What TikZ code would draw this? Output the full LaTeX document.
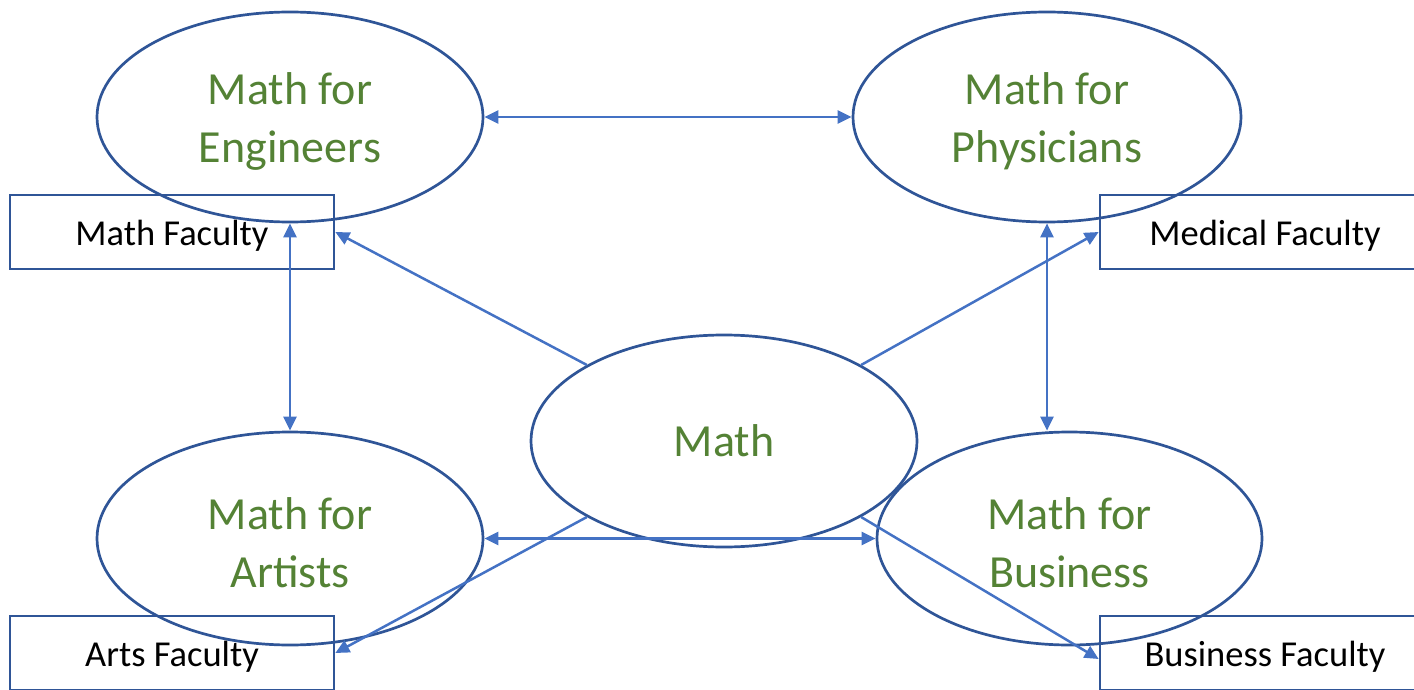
\documentclass[tikz,border=0pt]{standalone}
\usepackage{fontspec}
\setmainfont{Carlito}
\usetikzlibrary{shapes.geometric,arrows.meta}
\definecolor{ellblue}{HTML}{2F5597}
\definecolor{arrblue}{HTML}{4472C4}
\definecolor{txtgreen}{HTML}{548235}
\newcommand{\toprule}{\rule{0pt}{41pt}}
\tikzset{
  topic/.style={ellipse, draw=ellblue, line width=2.7pt, inner sep=0pt,
    text=txtgreen, align=center, font=\fontsize{46}{58}\selectfont},
  faculty/.style={rectangle, draw=ellblue, line width=2.7pt, inner sep=0pt,
    minimum height=74pt, text height=26pt, text depth=0pt, text=black,
    font=\fontsize{36.5}{44}\selectfont},
  conn/.style={draw=arrblue, line width=2.5pt, -{Triangle[length=14pt,width=13pt]}},
  biconn/.style={draw=arrblue, line width=2.5pt, {Triangle[length=14pt,width=13pt]}-{Triangle[length=14pt,width=13pt]}}
}
\begin{document}
\begin{tikzpicture}[x=1pt,y=-1pt]
\useasboundingbox (0,0) rectangle (1414,690);
\begin{scope}
\clip (0,0) rectangle (1414,690);
\node[topic, minimum width=386pt, minimum height=210pt] (E) at (290,117) {\toprule Math for\\Engineers};
\node[topic, minimum width=388pt, minimum height=210pt] (P) at (1047,117) {\toprule Math for\\Physicians};
\node[topic, minimum width=386pt, minimum height=212pt] (M) at (724,441) {Math};
\node[topic, minimum width=386pt, minimum height=213pt] (A) at (290,538.5) {\toprule Math for\\Artists};
\node[topic, minimum width=385pt, minimum height=213pt] (B) at (1069.5,538.5) {\toprule Math for\\Business};

\node[faculty, minimum width=324pt] (MF) at (172,232) {Math Faculty};
\node[faculty, minimum width=330pt] (DF) at (1265,232) {Medical Faculty};
\node[faculty, minimum width=324pt] (AF) at (172,653) {Arts Faculty};
\node[faculty, minimum width=330pt] (BF) at (1265,653) {Business Faculty};

\draw[biconn] (E.east) -- (P.west);
\draw[biconn] (A.east) -- (B.west);
\draw[biconn] (E.south) -- (A.north);
\draw[biconn] (P.south) -- (P.south |- B.north);

\draw[conn] (M.151) -- (MF.east);
\draw[conn] (M.29) -- (DF.west);
\draw[conn] (M.209) -- (AF.east);
\draw[conn] (M.331) -- ([yshift=-6pt]BF.west);
\end{scope}
\end{tikzpicture}
\end{document}
